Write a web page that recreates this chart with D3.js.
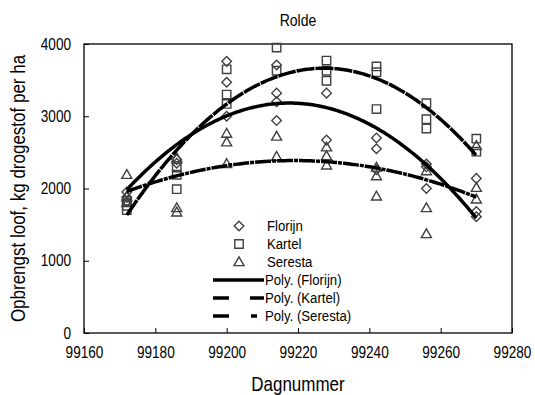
<!DOCTYPE html>
<html>
<head>
<meta charset="utf-8">
<script src="https://cdn.jsdelivr.net/npm/d3@7"></script>
<style>
  body { margin: 0; background: #fff; }
  #chart { width: 535px; height: 395px; }
  text { font-family: "Liberation Sans", Arial, sans-serif; fill: #000; }
</style>
</head>
<body>
<div id="chart"></div>
<script>
// data
const days = [99172, 99186, 99200, 99214, 99228, 99242, 99256, 99270];
const florijn = [
  [1950, 1880, 1820],
  [2400, 2350],
  [3760, 3470, 3000],
  [3710, 3320, 2940, 3200],
  [3320, 2670],
  [2700, 2550, 2260],
  [2340, 2000, 2300],
  [2140, 1680, 1610]
];
const kartel = [
  [1830, 1760, 1700],
  [2290, 2190, 1990],
  [3650, 3300, 3170],
  [3950, 3630],
  [3770, 3630, 3490],
  [3690, 3610, 3100],
  [3180, 2960, 2830],
  [2690, 2510]
];
const seresta = [
  [2190, 1890, 1800],
  [2420, 1730, 1670],
  [2760, 2640, 2340],
  [2720, 2440],
  [2570, 2450, 2320],
  [2290, 2170, 1890],
  [2240, 1730, 1370],
  [2590, 2010, 1850]
];
const seriesNames = ['Florijn', 'Kartel', 'Seresta'];
const xTicks = [99160, 99180, 99200, 99220, 99240, 99260, 99280];
const yTicks = [0, 1000, 2000, 3000, 4000];

const W = 535, H = 395;
const MARGIN_LEFT = 84, MARGIN_RIGHT = 23, MARGIN_TOP = 44, MARGIN_BOTTOM = 62;
const width = W - MARGIN_LEFT - MARGIN_RIGHT;
const height = H - MARGIN_TOP - MARGIN_BOTTOM;
const NARROW = 0.85; // reference font is a narrow sans

const svg = d3.select('#chart').append('svg').attr('width', W).attr('height', H);
const $vis = svg.append('g').attr('transform', `translate(${MARGIN_LEFT},${MARGIN_TOP})`);

const scaleX = d3.scaleLinear().domain([99160, 99280]).range([0, width]);
const scaleY = d3.scaleLinear().domain([0, 4000]).range([height, 0]);

// flatten replicates to points
function toPoints(vals) {
  const pts = [];
  vals.forEach((reps, i) => reps.forEach(v => pts.push({ x: days[i], y: v })));
  return pts;
}

// 2nd order least squares trendline (like excel's "Poly.")
function polyFit(pts) {
  const x0 = d3.mean(pts, d => d.x);
  let s = [0, 0, 0, 0, 0], t = [0, 0, 0];
  pts.forEach(p => {
    const u = p.x - x0;
    for (let k = 0; k < 5; k++) s[k] += Math.pow(u, k);
    for (let k = 0; k < 3; k++) t[k] += p.y * Math.pow(u, k);
  });
  const A = [[s[0], s[1], s[2], t[0]], [s[1], s[2], s[3], t[1]], [s[2], s[3], s[4], t[2]]];
  for (let i = 0; i < 3; i++) {
    for (let j = i + 1; j < 3; j++) {
      const f = A[j][i] / A[i][i];
      for (let k = i; k < 4; k++) A[j][k] -= f * A[i][k];
    }
  }
  const c = [0, 0, 0];
  for (let i = 2; i >= 0; i--) {
    let v = A[i][3];
    for (let k = i + 1; k < 3; k++) v -= A[i][k] * c[k];
    c[i] = v / A[i][i];
  }
  return x => c[0] + c[1] * (x - x0) + c[2] * (x - x0) * (x - x0);
}

const series = [
  { name: seriesNames[0], pts: toPoints(florijn), marker: 'diamond', dash: null, legendDash: null },
  { name: seriesNames[1], pts: toPoints(kartel), marker: 'square', dash: '18,1', legendDash: '16,21' },
  { name: seriesNames[2], pts: toPoints(seresta), marker: 'triangle', dash: '16,1,4,1', legendDash: '16,22,6,100' }
];

function markerPath(type) {
  if (type === 'diamond') return 'M0,-4.8L4.8,0L0,4.8L-4.8,0Z';
  if (type === 'square') return 'M-4.2,-4.2H4.2V4.2H-4.2Z';
  return 'M0,-5.2L5,3.6H-5Z';
}

// axes frame
$vis.append('rect').attr('width', width).attr('height', height)
  .attr('fill', 'none').attr('stroke', '#000').attr('stroke-width', 1.3);

const axisX = $vis.append('g').attr('transform', `translate(0,${height})`)
  .call(d3.axisBottom(scaleX).tickValues(xTicks).tickSize(-5).tickPadding(14).tickFormat(d3.format('d')));
const axisY = $vis.append('g')
  .call(d3.axisLeft(scaleY).tickValues(yTicks).tickSize(-5).tickPadding(13).tickFormat(d3.format('d')));
[axisX, axisY].forEach(a => {
  a.select('.domain').remove();
  a.selectAll('line').attr('stroke', '#000');
  a.selectAll('text').attr('font-family', null).style('font-size', '16px');
});

// markers
series.forEach(s => {
  $vis.append('g').selectAll('path').data(s.pts).join('path')
    .attr('d', markerPath(s.marker))
    .attr('transform', d => `translate(${scaleX(d.x)},${scaleY(d.y)})`)
    .attr('fill', 'none').attr('stroke', '#404040').attr('stroke-width', 1.4);
});

// trendlines
const line = d3.line().x(d => scaleX(d[0])).y(d => scaleY(d[1]));
series.forEach(s => {
  const f = polyFit(s.pts);
  const xs = d3.range(days[0], days[days.length - 1] + 0.01, 0.5);
  $vis.append('path').datum(xs.map(x => [x, f(x)]))
    .attr('d', line).attr('fill', 'none').attr('stroke', '#000')
    .attr('stroke-width', 3.5).attr('stroke-dasharray', s.dash);
});

// title & axis labels
svg.append('text').attr('x', MARGIN_LEFT + width / 2).attr('y', 26)
  .attr('text-anchor', 'middle').style('font-size', '16.5px').text('Rolde');
svg.append('text').attr('x', MARGIN_LEFT + width / 2).attr('y', 391)
  .attr('text-anchor', 'middle').style('font-size', '20px').text('Dagnummer');
svg.append('text').attr('transform', `translate(25,${MARGIN_TOP + height / 2}) rotate(-90)`)
  .attr('text-anchor', 'middle').style('font-size', '20px').text('Opbrengst loof, kg drogestof per ha');

// legend
const $legend = svg.append('g');
const rowsY = [226, 244, 262, 280, 298, 316];
series.forEach((s, i) => {
  $legend.append('path').attr('d', markerPath(s.marker))
    .attr('transform', `translate(239,${rowsY[i]})`)
    .attr('fill', 'none').attr('stroke', '#404040').attr('stroke-width', 1.4);
  $legend.append('text').attr('x', 267).attr('y', rowsY[i]).attr('dy', '0.35em')
    .style('font-size', '15.5px').text(s.name);
});
series.forEach((s, i) => {
  const y = rowsY[i + 3];
  $legend.append('line').attr('x1', 213).attr('x2', 264).attr('y1', y).attr('y2', y)
    .attr('stroke', '#000').attr('stroke-width', 3.5).attr('stroke-dasharray', s.legendDash);
  $legend.append('text').attr('x', 265).attr('y', y).attr('dy', '0.35em')
    .style('font-size', '15.5px').text(`Poly. (${s.name})`);
});

// squeeze all text horizontally (around its anchor) to mimic the narrow face
svg.selectAll('text').each(function () {
  const x = +this.getAttribute('x') || 0;
  const t = this.getAttribute('transform') || '';
  this.setAttribute('transform', `${t} translate(${x},0) scale(${NARROW},1) translate(${-x},0)`);
});
</script>
</body>
</html>
